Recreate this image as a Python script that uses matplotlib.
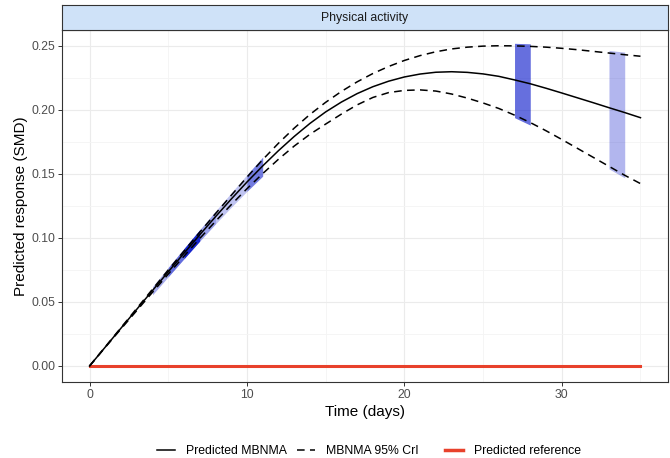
import numpy as np
import matplotlib
matplotlib.use("Agg")
import matplotlib.pyplot as plt
from matplotlib.lines import Line2D

plt.rcParams["font.family"] = ["Liberation Sans", "DejaVu Sans"]

# time points (days) and predicted responses
days = list(range(0, 36))
pred_mean = [0.0000, 0.0148, 0.0296, 0.0443, 0.0590, 0.0736, 0.0881, 0.1025, 0.1166, 0.1304,
             0.1437, 0.1563, 0.1682, 0.1793, 0.1895, 0.1985, 0.2062, 0.2128, 0.2182, 0.2225,
             0.2258, 0.2281, 0.2295, 0.2299, 0.2294, 0.2282, 0.2263, 0.2235, 0.2205, 0.2170,
             0.2133, 0.2095, 0.2057, 0.2018, 0.1980, 0.1940]
cri_upper = [0.0000, 0.0150, 0.0300, 0.0450, 0.0600, 0.0750, 0.0898, 0.1045, 0.1190, 0.1333,
             0.1475, 0.1612, 0.1740, 0.1858, 0.1965, 0.2060, 0.2145, 0.2220, 0.2285, 0.2340,
             0.2387, 0.2425, 0.2455, 0.2477, 0.2491, 0.2499, 0.2502, 0.2501, 0.2497, 0.2491,
             0.2482, 0.2471, 0.2458, 0.2445, 0.2432, 0.2420]
cri_lower = [0.0000, 0.0146, 0.0290, 0.0433, 0.0576, 0.0718, 0.0858, 0.0996, 0.1130, 0.1260,
             0.1385, 0.1503, 0.1615, 0.1718, 0.1810, 0.1890, 0.1968, 0.2040, 0.2098, 0.2136,
             0.2153, 0.2157, 0.2148, 0.2125, 0.2093, 0.2055, 0.2012, 0.1960, 0.1902, 0.1838,
             0.1770, 0.1700, 0.1630, 0.1560, 0.1490, 0.1425]
pred_ref = [0.0] * len(days)

# observed-data shading: (start day, end day, opacity)
obs_bands = [(4, 6, 0.35), (5, 8, 0.40), (6, 7, 0.85), (8, 10, 0.25), (10, 11, 0.55),
             (27, 28, 0.60), (33, 34, 0.30)]

t = np.array(days)
lo = np.array(cri_lower)
hi = np.array(cri_upper)

fig = plt.figure(figsize=(6.7, 4.58), dpi=100)
ax = fig.add_axes([62 / 670, 1 - 382 / 458, 606 / 670, 352 / 458])

for start, end, a in obs_bands:
    m = (t >= start) & (t <= end)
    ax.fill_between(t[m], lo[m] - 0.002, hi[m] + 0.002, color="#0010c8", alpha=a, linewidth=0, zorder=2)

ax.plot(days, pred_ref, color="#e8412b", lw=2.2, zorder=3)
ax.plot(days, pred_mean, color="black", lw=1.1, zorder=4)
ax.plot(days, cri_upper, color="black", lw=1.1, ls=(0, (5, 3.5)), zorder=4)
ax.plot(days, cri_lower, color="black", lw=1.1, ls=(0, (5, 3.5)), zorder=4)

ax.set_xlim(-1.75, 36.75)
ax.set_ylim(-0.0125, 0.2625)
ax.set_xticks([0, 10, 20, 30])
ax.set_xticks([5, 15, 25, 35], minor=True)
ax.set_yticks([0, 0.05, 0.10, 0.15, 0.20, 0.25])
ax.set_yticks([0.025, 0.075, 0.125, 0.175, 0.225], minor=True)
ax.set_yticklabels(["0.00", "0.05", "0.10", "0.15", "0.20", "0.25"])
ax.grid(which="major", color="#ebebeb", lw=0.8)
ax.grid(which="minor", color="#f4f4f4", lw=0.6)
ax.set_axisbelow(True)
ax.tick_params(which="major", length=2.75, pad=2.2, color="#333333", labelcolor="#4d4d4d",
               labelsize=8.8, width=0.7)
ax.tick_params(which="minor", length=0)
for s in ax.spines.values():
    s.set_color("#333333")
    s.set_linewidth(0.8)
ax.set_xlabel("Time (days)", fontsize=11, labelpad=3)
ax.set_ylabel("Predicted response (SMD)", fontsize=11, labelpad=2)

# facet strip
strip = fig.add_axes([62 / 670, 1 - 30 / 458, 606 / 670, 25 / 458])
strip.set_facecolor("#cfe2f8")
strip.set_xticks([])
strip.set_yticks([])
for s in strip.spines.values():
    s.set_color("#333333")
    s.set_linewidth(0.8)
strip.text(0.5, 0.5, "Physical activity", ha="center", va="center", fontsize=8.8, color="#1a1a1a")

h1 = [Line2D([], [], color="black", lw=1.1),
      Line2D([], [], color="black", lw=1.1, ls=(0, (5, 3.5)))]
fig.legend(h1, ["Predicted MBNMA", "MBNMA 95% CrI"], loc="center", bbox_to_anchor=(0.43, 0.015),
           ncol=2, frameon=False, fontsize=8.8, handlelength=1.5, handletextpad=0.9, columnspacing=0.8,
           borderpad=0.1)
h2 = [Line2D([], [], color="#e8412b", lw=2.5)]
fig.legend(h2, ["Predicted reference"], loc="center", bbox_to_anchor=(0.766, 0.015),
           frameon=False, fontsize=8.8, handlelength=1.5, handletextpad=0.9, borderpad=0.1)

fig.savefig("out.png", dpi=100)
